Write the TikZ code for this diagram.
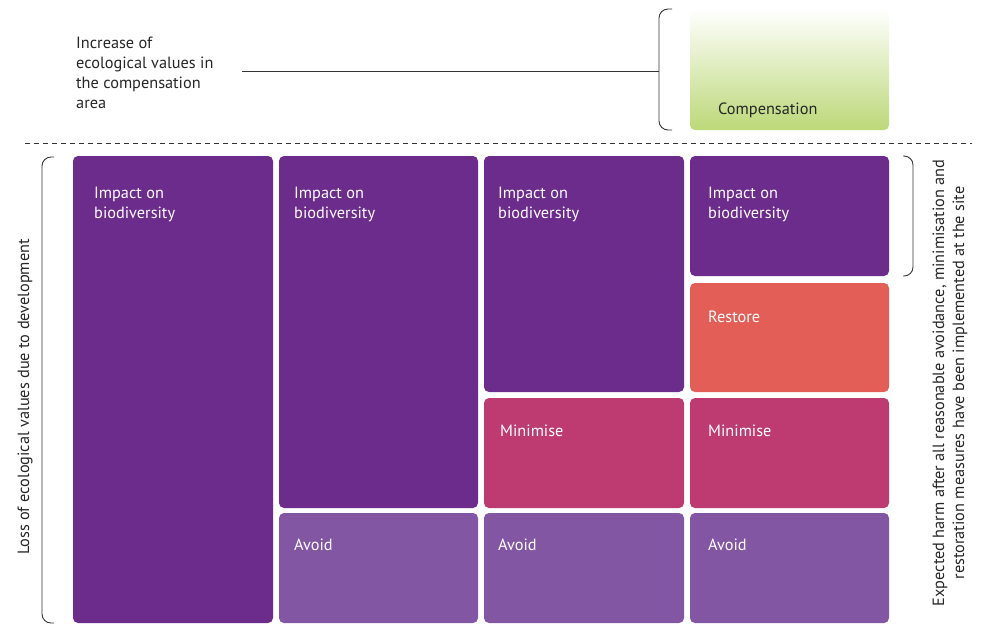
\documentclass[tikz,border=0pt]{standalone}
\usepackage{fontspec}
\setmainfont{PT Sans}
\definecolor{impact}{HTML}{6B2C8C}
\definecolor{avoidc}{HTML}{8256A3}
\definecolor{minic}{HTML}{BE3B72}
\definecolor{restc}{HTML}{E35E57}
\definecolor{compc}{HTML}{BCD878}
\definecolor{linec}{HTML}{333333}
\begin{document}
\begin{tikzpicture}[x=1pt,y=-1pt,
  blk/.style={rounded corners=5pt},
  lbl/.style={anchor=north west,text=white,font=\fontsize{16.3}{20}\selectfont,inner sep=0pt,align=left},
  dlbl/.style={anchor=north west,text=black!85,font=\fontsize{16.3}{20}\selectfont,inner sep=0pt,align=left},
  brk/.style={draw=linec,line width=0.9pt,rounded corners=9pt}]
\useasboundingbox (0,0) rectangle (981,625);
% compensation
\shade[blk,top color=white,bottom color=compc] (690,9) rectangle (889,130);
\node[dlbl] (comp) at (718,103) {Compensation};
\node[dlbl] (inc) at (76,37) {Increase of\\ecological values in\\the compensation\\area};
% top bracket
\draw[brk] (672,9) -- (659,9) -- (659,130) -- (672,130);
\coordinate (tb) at (659,71);
\coordinate (ts) at (242,71);
\draw[linec,line width=0.9pt] (ts) -- (tb);
% dashed separator
\coordinate (d1) at (25,143);
\coordinate (d2) at (972,143);
\draw[linec,line width=0.8pt,dash pattern=on 5pt off 4pt] (d1) -- (d2);
% column 1
\fill[impact,blk] (73,156) rectangle (273,623);
\node[lbl] (i1) at (94,187) {Impact on\\biodiversity};
% column 2
\fill[impact,blk] (279,156) rectangle (478,508);
\node[lbl] (i2) at (294,187) {Impact on\\biodiversity};
\fill[avoidc,blk] (279,513) rectangle (478,623);
\node[lbl] (a2) at (294,539) {Avoid};
% column 3
\fill[impact,blk] (484,156) rectangle (684,392);
\node[lbl] (i3) at (498,187) {Impact on\\biodiversity};
\fill[minic,blk] (484,398) rectangle (684,508);
\node[lbl] (m3) at (500,425) {Minimise};
\fill[avoidc,blk] (484,513) rectangle (684,623);
\node[lbl] (a3) at (498,539) {Avoid};
% column 4
\fill[impact,blk] (690,156) rectangle (889,276);
\node[lbl] (i4) at (708,187) {Impact on\\biodiversity};
\fill[restc,blk] (690,283) rectangle (889,392);
\node[lbl] (r4) at (708,311) {Restore};
\fill[minic,blk] (690,398) rectangle (889,508);
\node[lbl] (m4) at (708,425) {Minimise};
\fill[avoidc,blk] (690,513) rectangle (889,623);
\node[lbl] (a4) at (708,539) {Avoid};
% left bracket
\draw[brk] (54,157) -- (42,157) -- (42,623) -- (54,623);
\node[rotate=90,text=black!85,font=\fontsize{16.3}{20}\selectfont,inner sep=0pt] (loss) at (25,397) {Loss of ecological values due to development};
% right bracket
\draw[brk] (903,156) -- (913,156) -- (913,276) -- (903,276);
\node[rotate=90,text=black!85,font=\fontsize{16.3}{20}\selectfont,inner sep=0pt,align=center] (harm) at (950,383) {Expected harm after all reasonable avoidance, minimisation and\\restoration measures have been implemented at the site};
\end{tikzpicture}
\end{document}
